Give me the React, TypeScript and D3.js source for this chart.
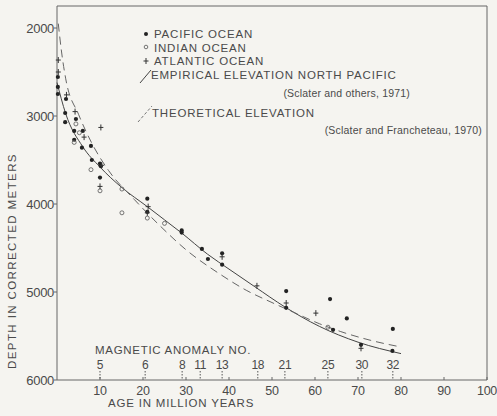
import React from 'react';
import * as d3 from 'd3';

// [age (m.y.), depth (m)]
const pacific: [number, number][] = [
  [0.2, 2557], [0.2, 2670], [0.2, 2750], [2.1, 2807], [1.9, 2966], [1.9, 3070],
  [4.4, 3034], [4.0, 3170], [4.0, 3270], [6.0, 3170], [5.8, 3360], [7.9, 3340],
  [8.1, 3500], [10.0, 3540], [10.2, 3570], [10.0, 3700], [21.0, 3940], [21.0, 4090],
  [29.0, 4300], [29.0, 4325], [33.7, 4510], [35.1, 4625], [38.4, 4560], [38.4, 4690],
  [53.3, 4990], [53.3, 5180], [63.5, 5080], [64.2, 5430], [67.4, 5300], [70.7, 5600],
  [78.1, 5420], [78.0, 5670],
];

const indian: [number, number][] = [
  [4.4, 3090], [4.0, 3300], [5.2, 3190], [7.9, 3610], [10.0, 3850], [15.1, 3830],
  [15.1, 4100], [21.0, 4160], [25.0, 4220], [63.0, 5400],
];

const atlantic: [number, number][] = [
  [0.3, 2364], [0.3, 2500], [2.2, 2760], [4.2, 2950], [6.3, 3240], [10.2, 3130],
  [10.4, 3560], [10.0, 3800], [21.2, 4030], [21.0, 4100], [38.4, 4600], [46.5, 4930],
  [53.3, 5125], [60.2, 5240], [70.7, 5640],
];

// empirical elevation, North Pacific (solid)
const empirical: [number, number][] = [
  [0, 2620], [2, 2970], [6, 3350], [10, 3580], [15, 3810], [21, 4030], [25, 4180],
  [29, 4330], [35, 4570], [40, 4740], [46, 4940], [53, 5170], [61, 5390], [70, 5570],
  [80, 5700],
];

// theoretical elevation (dashed)
const theoretical: [number, number][] = [
  [0.3, 1950], [1, 2250], [2, 2570], [5, 2980], [8, 3300], [12, 3620], [18, 3950],
  [24, 4250], [30, 4520], [38, 4800], [44, 4980], [50, 5120], [55, 5230], [61, 5360],
  [66, 5450], [73, 5550], [80, 5625],
];

const anomalyNo = ['5', '6', '8', '11', '13', '18', '21', '25', '30', '32'];
const anomalyAge = [10, 20.5, 29.1, 33.3, 38.4, 46.7, 53, 63, 70.9, 78.1];

const xTicks = [10, 20, 30, 40, 50, 60, 70, 80, 90, 100];
const yTicks = [2000, 3000, 4000, 5000, 6000];

const legendRows = ['PACIFIC OCEAN', 'INDIAN OCEAN', 'ATLANTIC OCEAN'];

const ink = '#4a4a4a';
const font = 'Liberation Sans, Arial, sans-serif';

export default function App() {
  const W = 497, H = 416;
  const x = d3.scaleLinear().domain([0, 100]).range([57, 487]);
  const y = d3.scaleLinear().domain([2000, 6000]).range([28, 380]);
  const yTop = y(1750);

  const line = d3.line<[number, number]>()
    .x(d => x(d[0]))
    .y(d => y(d[1]))
    .curve(d3.curveMonotoneX);

  const dot = (d: [number, number], i: number) => (
    <circle key={'p' + i} cx={x(d[0])} cy={y(d[1])} r={2.1} fill="#222" />
  );
  const ring = (d: [number, number], i: number) => (
    <circle key={'i' + i} cx={x(d[0])} cy={y(d[1])} r={2} fill="none" stroke="#555" strokeWidth={0.8} />
  );
  const plus = (d: [number, number], i: number) => (
    <path key={'a' + i} d={`M${x(d[0]) - 2.5},${y(d[1])}h5M${x(d[0])},${y(d[1]) - 3}v6`} stroke="#333" strokeWidth={1} />
  );

  return (
    <svg width={W} height={H} style={{ position: 'absolute', left: 0, top: 0, background: '#f5f4f0' }}
      fontFamily={font} fill={ink}>
      <rect width={W} height={H} fill="#f5f4f0" />

      {/* frame */}
      <path d={`M${x(0)},${yTop}V${y(6000)}H${x(100)}V${yTop}Z`} fill="none" stroke="#666" strokeWidth={1} />

      {/* y ticks */}
      {yTicks.map(t => (
        <g key={t}>
          <line x1={x(0) - 3} x2={x(0)} y1={y(t)} y2={y(t)} stroke="#666" />
          <text x={x(0) - 3} y={y(t)} dy="0.35em" textAnchor="end" fontSize={13} letterSpacing={-0.3}>{t}</text>
        </g>
      ))}

      {/* x ticks */}
      {xTicks.map(t => (
        <g key={t}>
          <line x1={x(t)} x2={x(t)} y1={y(6000)} y2={y(6000) - 3} stroke="#666" />
          <text x={x(t)} y={y(6000) + 15} textAnchor="middle" fontSize={12.5} letterSpacing={-0.3}>{t}</text>
        </g>
      ))}

      <text x={108} y={407} fontSize={11.5} letterSpacing={0.8}>AGE IN MILLION YEARS</text>
      <text transform={`translate(16,${261}) rotate(-90)`} textAnchor="middle" fontSize={11.5} letterSpacing={1.4}>
        DEPTH  IN  CORRECTED  METERS
      </text>

      {/* magnetic anomalies */}
      <text x={95} y={354} fontSize={11.5} letterSpacing={0.7}>MAGNETIC  ANOMALY  NO.</text>
      {anomalyNo.map((n, i) => (
        <g key={n}>
          <text x={x(anomalyAge[i])} y={369} textAnchor="middle" fontSize={12} letterSpacing={-0.3}>{n}</text>
          <line x1={x(anomalyAge[i])} x2={x(anomalyAge[i])} y1={371} y2={y(6000)} stroke="#555" strokeDasharray="1.5,1.5" />
        </g>
      ))}

      {/* curves */}
      <path d={line(empirical) || ''} fill="none" stroke="#444" strokeWidth={1} />
      <path d={line(theoretical) || ''} fill="none" stroke="#666" strokeWidth={1} strokeDasharray="8,5" />

      {/* points */}
      {pacific.map(dot)}
      {indian.map(ring)}
      {atlantic.map(plus)}

      {/* legend */}
      <g fontSize={11.5} letterSpacing={0.8}>
        <circle cx={146} cy={34} r={2} fill="#222" />
        <circle cx={146} cy={47} r={1.8} fill="none" stroke="#555" strokeWidth={0.8} />
        <path d="M143.5,61h5M146,58v6" stroke="#333" />
        {legendRows.map((r, i) => (
          <text key={r} x={154} y={34 + i * 13.5} dy="0.35em">{r}</text>
        ))}
        <line x1={140} y1={83} x2={151} y2={70} stroke="#444" />
        <text x={151} y={75} dy="0.35em">EMPIRICAL  ELEVATION  NORTH  PACIFIC</text>
        <text x={410} y={93} dy="0.35em" textAnchor="end" fontSize={10.5} letterSpacing={0.2}>(Sclater and others, 1971)</text>
        <line x1={138} y1={122} x2={152} y2={106} stroke="#777" strokeDasharray="3,2" />
        <text x={152} y={113} dy="0.35em">THEORETICAL  ELEVATION</text>
        <text x={482} y={130} dy="0.35em" textAnchor="end" fontSize={10.5} letterSpacing={0.2}>(Sclater and Francheteau, 1970)</text>
      </g>
    </svg>
  );
}
